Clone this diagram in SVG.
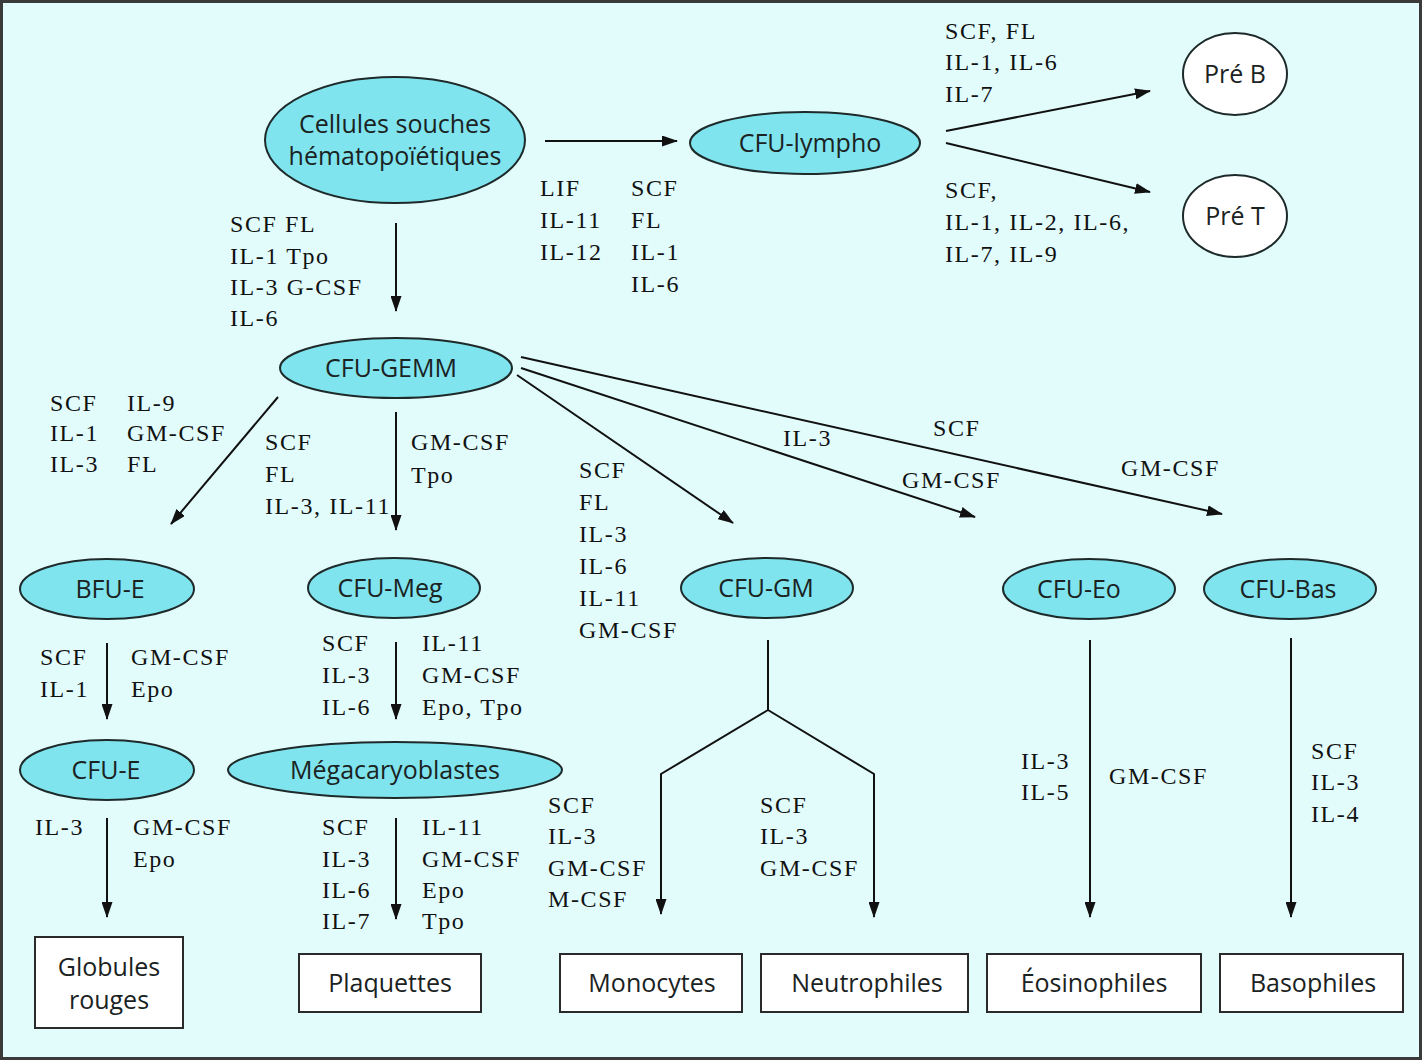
<svg xmlns="http://www.w3.org/2000/svg" width="1422" height="1061" viewBox="0 0 1422 1061">
<defs>
<marker id="ah" markerWidth="16" markerHeight="11" refX="15" refY="5.5" orient="auto" markerUnits="userSpaceOnUse">
<path d="M0,0 L16,5.5 L0,11 Z" fill="#111"/>
</marker>
<style>
.bg{fill:#e2fcfc;stroke:#3a3a3a;stroke-width:3}
.cell{fill:#80e4ee;stroke:#1e2a2a;stroke-width:2}
.wcell{fill:#ffffff;stroke:#1e2a2a;stroke-width:2}
.box{fill:#ffffff;stroke:#2a2a2a;stroke-width:2}
.nl{font-family:"Open Sans","DejaVu Sans",sans-serif;font-size:25px;fill:#1a2222;text-anchor:middle}
.f{font-family:"Liberation Serif","Times New Roman",serif;font-size:24px;fill:#111;letter-spacing:1.6px}
.ln{fill:none;stroke:#111;stroke-width:2}
.ar{fill:none;stroke:#111;stroke-width:2;marker-end:url(#ah)}
</style>
</defs>
<rect class="bg" x="1.5" y="1.5" width="1419" height="1057"/>

<g id="connectors">
<line class="ar" x1="545" y1="141" x2="677" y2="141"/>
<line class="ar" x1="946" y1="131" x2="1150" y2="91"/>
<line class="ar" x1="946" y1="143" x2="1150" y2="192"/>
<line class="ar" x1="396" y1="223" x2="396" y2="311"/>
<line class="ar" x1="278" y1="397" x2="171" y2="524"/>
<line class="ar" x1="396" y1="412" x2="396" y2="530"/>
<line class="ar" x1="517" y1="375" x2="733" y2="523"/>
<line class="ar" x1="521" y1="368" x2="975" y2="517"/>
<line class="ar" x1="521" y1="357" x2="1222" y2="514"/>
<line class="ar" x1="107" y1="643" x2="107" y2="719"/>
<line class="ar" x1="396" y1="642" x2="396" y2="719"/>
<line class="ar" x1="107" y1="818" x2="107" y2="917"/>
<line class="ar" x1="396" y1="818" x2="396" y2="919"/>
<polyline class="ln" points="768,640 768,710"/>
<polyline class="ar" points="768,710 661,774 661,914"/>
<polyline class="ar" points="768,710 874,774 874,917"/>
<line class="ar" x1="1090" y1="640" x2="1090" y2="917"/>
<line class="ar" x1="1291" y1="638" x2="1291" y2="917"/>
</g>

<g id="n-cellules"><ellipse class="cell" cx="395" cy="140" rx="130" ry="63"/>
<text class="nl" x="395" y="133">Cellules souches</text><text class="nl" x="395" y="165">hématopoïétiques</text></g>
<g id="n-lympho"><ellipse class="cell" cx="805" cy="143" rx="115" ry="31"/><text class="nl" x="810" y="152">CFU-lympho</text></g>
<g id="n-preB"><ellipse class="wcell" cx="1235" cy="74" rx="52" ry="41"/><text class="nl" x="1235" y="83">Pré B</text></g>
<g id="n-preT"><ellipse class="wcell" cx="1235" cy="216" rx="52" ry="41"/><text class="nl" x="1235" y="225">Pré T</text></g>
<g id="n-gemm"><ellipse class="cell" cx="396" cy="368" rx="116" ry="30"/><text class="nl" x="391" y="377">CFU-GEMM</text></g>
<g id="n-bfue"><ellipse class="cell" cx="107" cy="589" rx="87" ry="30"/><text class="nl" x="110" y="598">BFU-E</text></g>
<g id="n-meg"><ellipse class="cell" cx="394" cy="588" rx="86" ry="30"/><text class="nl" x="390" y="597">CFU-Meg</text></g>
<g id="n-gm"><ellipse class="cell" cx="767" cy="588" rx="86" ry="30"/><text class="nl" x="766" y="597">CFU-GM</text></g>
<g id="n-eo"><ellipse class="cell" cx="1089" cy="589" rx="86" ry="30"/><text class="nl" x="1079" y="598">CFU-Eo</text></g>
<g id="n-bas"><ellipse class="cell" cx="1290" cy="589" rx="86" ry="30"/><text class="nl" x="1288" y="598">CFU-Bas</text></g>
<g id="n-cfue"><ellipse class="cell" cx="107" cy="770" rx="87" ry="30"/><text class="nl" x="106" y="779">CFU-E</text></g>
<g id="n-mega"><ellipse class="cell" cx="395" cy="770" rx="167" ry="28"/><text class="nl" x="395" y="779">Mégacaryoblastes</text></g>

<g id="n-globules"><rect class="box" x="35" y="937" width="148" height="91"/><text class="nl" x="109" y="976">Globules</text><text class="nl" x="109" y="1009">rouges</text></g>
<g id="n-plaquettes"><rect class="box" x="299" y="954" width="182" height="58"/><text class="nl" x="390" y="992">Plaquettes</text></g>
<g id="n-monocytes"><rect class="box" x="560" y="954" width="182" height="58"/><text class="nl" x="652" y="992">Monocytes</text></g>
<g id="n-neutrophiles"><rect class="box" x="761" y="954" width="207" height="58"/><text class="nl" x="867" y="992">Neutrophiles</text></g>
<g id="n-eosinophiles"><rect class="box" x="987" y="954" width="214" height="58"/><text class="nl" x="1094" y="992">Éosinophiles</text></g>
<g id="n-basophiles"><rect class="box" x="1220" y="954" width="183" height="58"/><text class="nl" x="1313" y="992">Basophiles</text></g>

<g id="labels">
<text class="f" x="230" y="232">SCF FL</text>
<text class="f" x="230" y="264">IL-1 Tpo</text>
<text class="f" x="230" y="295">IL-3 G-CSF</text>
<text class="f" x="230" y="326">IL-6</text>

<text class="f" x="540" y="196">LIF</text>
<text class="f" x="540" y="228">IL-11</text>
<text class="f" x="540" y="260">IL-12</text>
<text class="f" x="631" y="196">SCF</text>
<text class="f" x="631" y="228">FL</text>
<text class="f" x="631" y="260">IL-1</text>
<text class="f" x="631" y="292">IL-6</text>

<text class="f" x="945" y="39">SCF, FL</text>
<text class="f" x="945" y="70">IL-1, IL-6</text>
<text class="f" x="945" y="102">IL-7</text>
<text class="f" x="945" y="198">SCF,</text>
<text class="f" x="945" y="230">IL-1, IL-2, IL-6,</text>
<text class="f" x="945" y="262">IL-7, IL-9</text>

<text class="f" x="50" y="411">SCF</text>
<text class="f" x="50" y="441">IL-1</text>
<text class="f" x="50" y="472">IL-3</text>
<text class="f" x="127" y="411">IL-9</text>
<text class="f" x="127" y="441">GM-CSF</text>
<text class="f" x="127" y="472">FL</text>

<text class="f" x="265" y="450">SCF</text>
<text class="f" x="265" y="482">FL</text>
<text class="f" x="265" y="514">IL-3, IL-11</text>
<text class="f" x="411" y="450">GM-CSF</text>
<text class="f" x="411" y="483">Tpo</text>

<text class="f" x="579" y="478">SCF</text>
<text class="f" x="579" y="510">FL</text>
<text class="f" x="579" y="542">IL-3</text>
<text class="f" x="579" y="574">IL-6</text>
<text class="f" x="579" y="606">IL-11</text>
<text class="f" x="579" y="638">GM-CSF</text>

<text class="f" x="783" y="446">IL-3</text>
<text class="f" x="933" y="436">SCF</text>
<text class="f" x="902" y="488">GM-CSF</text>
<text class="f" x="1121" y="476">GM-CSF</text>

<text class="f" x="40" y="665">SCF</text>
<text class="f" x="40" y="697">IL-1</text>
<text class="f" x="131" y="665">GM-CSF</text>
<text class="f" x="131" y="697">Epo</text>

<text class="f" x="322" y="651">SCF</text>
<text class="f" x="322" y="683">IL-3</text>
<text class="f" x="322" y="715">IL-6</text>
<text class="f" x="422" y="651">IL-11</text>
<text class="f" x="422" y="683">GM-CSF</text>
<text class="f" x="422" y="715">Epo, Tpo</text>

<text class="f" x="35" y="835">IL-3</text>
<text class="f" x="133" y="835">GM-CSF</text>
<text class="f" x="133" y="867">Epo</text>

<text class="f" x="322" y="835">SCF</text>
<text class="f" x="322" y="867">IL-3</text>
<text class="f" x="322" y="898">IL-6</text>
<text class="f" x="322" y="929">IL-7</text>
<text class="f" x="422" y="835">IL-11</text>
<text class="f" x="422" y="867">GM-CSF</text>
<text class="f" x="422" y="898">Epo</text>
<text class="f" x="422" y="929">Tpo</text>

<text class="f" x="548" y="813">SCF</text>
<text class="f" x="548" y="844">IL-3</text>
<text class="f" x="548" y="876">GM-CSF</text>
<text class="f" x="548" y="907">M-CSF</text>

<text class="f" x="760" y="813">SCF</text>
<text class="f" x="760" y="844">IL-3</text>
<text class="f" x="760" y="876">GM-CSF</text>

<text class="f" x="1021" y="769">IL-3</text>
<text class="f" x="1021" y="800">IL-5</text>
<text class="f" x="1109" y="784">GM-CSF</text>

<text class="f" x="1311" y="759">SCF</text>
<text class="f" x="1311" y="790">IL-3</text>
<text class="f" x="1311" y="822">IL-4</text>
</g>
</svg>
